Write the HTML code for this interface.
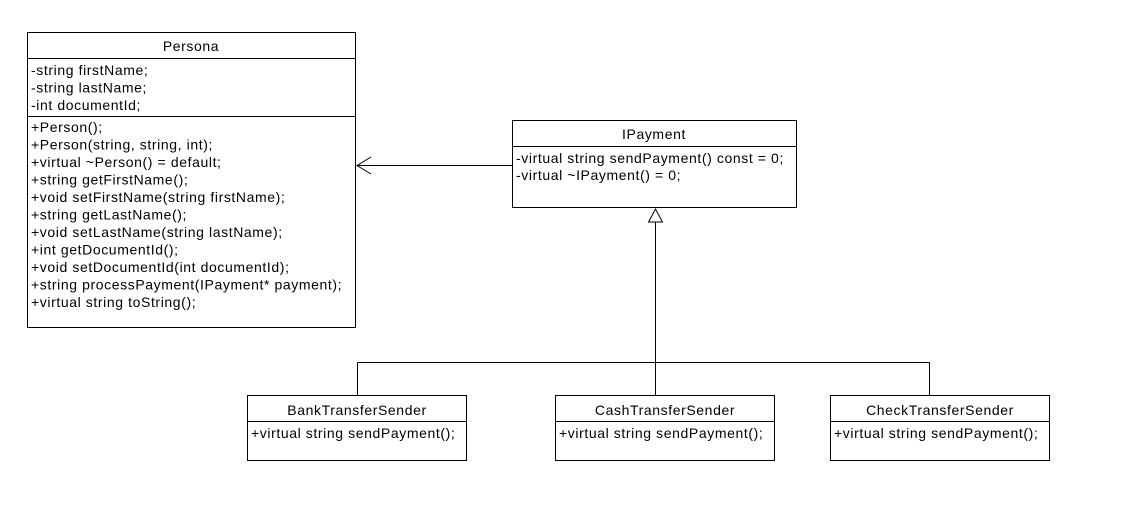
<!DOCTYPE html>
<html><head><meta charset="utf-8"><style>html,body{margin:0;padding:0;background:#fff}svg{display:block}</style></head>
<body>
<svg width="1135" height="526" xmlns="http://www.w3.org/2000/svg" font-family="Liberation Sans, Arial, sans-serif" font-size="14" letter-spacing="0.6" fill="#000">
<rect x="0" y="0" width="1135" height="526" fill="#fff"/>
<g fill="none" stroke="#000" stroke-width="1">
<rect x="27.5" y="32.5" width="328" height="295"/>
<line x1="27.5" y1="58.5" x2="355.5" y2="58.5"/>
<line x1="27.5" y1="116.5" x2="355.5" y2="116.5"/>
<rect x="512.5" y="120.5" width="284" height="87"/>
<line x1="512.5" y1="146.5" x2="796.5" y2="146.5"/>
<line x1="357" y1="165.5" x2="512" y2="165.5"/>
<polyline points="371,157 357,165.5 371,174"/>
<polygon points="655.5,209 648.5,222 662.5,222"/>
<line x1="655.5" y1="222" x2="655.5" y2="362.5"/>
<line x1="357.5" y1="362.5" x2="929.5" y2="362.5"/>
<line x1="357.5" y1="362.5" x2="357.5" y2="395"/>
<line x1="655.5" y1="362.5" x2="655.5" y2="395"/>
<line x1="929.5" y1="362.5" x2="929.5" y2="395"/>
<rect x="247.5" y="395.5" width="219" height="65"/>
<line x1="247.5" y1="421.5" x2="466.5" y2="421.5"/>
<rect x="555.5" y="395.5" width="219" height="65"/>
<line x1="555.5" y1="421.5" x2="774.5" y2="421.5"/>
<rect x="830.5" y="395.5" width="219" height="65"/>
<line x1="830.5" y1="421.5" x2="1049.5" y2="421.5"/>
</g>
<text x="191" y="51" text-anchor="middle">Persona</text>
<text x="31" y="75">-string firstName;</text>
<text x="31" y="92.5">-string lastName;</text>
<text x="31" y="110">-int documentId;</text>
<text x="31" y="132">+Person();</text>
<text x="31" y="149.5">+Person(string, string, int);</text>
<text x="31" y="167">+virtual ~Person() = default;</text>
<text x="31" y="184.5">+string getFirstName();</text>
<text x="31" y="202">+void setFirstName(string firstName);</text>
<text x="31" y="219.5">+string getLastName();</text>
<text x="31" y="237">+void setLastName(string lastName);</text>
<text x="31" y="254.5">+int getDocumentId();</text>
<text x="31" y="272">+void setDocumentId(int documentId);</text>
<text x="31" y="289.5">+string processPayment(IPayment* payment);</text>
<text x="31" y="307">+virtual string toString();</text>
<text x="654" y="139" text-anchor="middle">IPayment</text>
<text x="516" y="163">-virtual string sendPayment() const = 0;</text>
<text x="516" y="180">-virtual ~IPayment() = 0;</text>
<text x="357" y="415" text-anchor="middle">BankTransferSender</text>
<text x="251" y="438">+virtual string sendPayment();</text>
<text x="665" y="415" text-anchor="middle">CashTransferSender</text>
<text x="559" y="438">+virtual string sendPayment();</text>
<text x="940" y="415" text-anchor="middle">CheckTransferSender</text>
<text x="834" y="438">+virtual string sendPayment();</text>
</svg>
</body></html>
